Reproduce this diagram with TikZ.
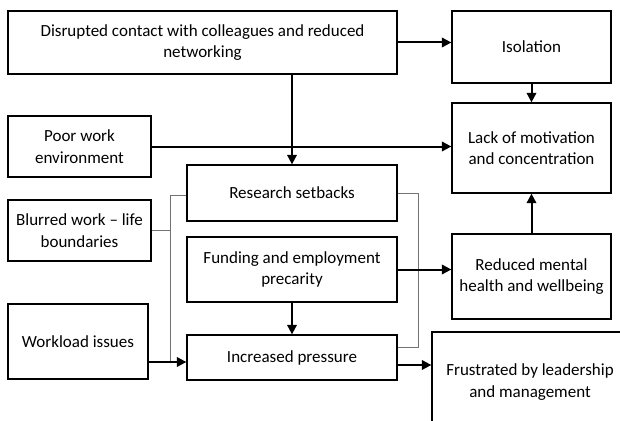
\documentclass[tikz,border=0pt]{standalone}
\usepackage{fontspec}
\setmainfont{Carlito}
\usetikzlibrary{arrows.meta,calc}
\begin{document}
\begin{tikzpicture}[x=1pt,y=-1pt,
  box/.style={draw=black,line width=1.3pt,align=center,inner sep=0pt,font=\fontsize{17}{21.5}\selectfont},
  txt/.style={align=center,inner sep=0pt,font=\fontsize{17}{21.5}\selectfont},
  arr/.style={line width=2pt,-{Triangle[length=9.5pt,width=9.5pt]}},
  gline/.style={draw=black!55,line width=0.9pt}]
\useasboundingbox (0,0) rectangle (620,420);
% boxes
\node[box,minimum width=389pt,minimum height=63pt] (A) at (202.5,42.5) {Disrupted contact with colleagues and reduced\\networking};
\node[box,minimum width=159pt,minimum height=72pt] (iso) at (531.5,47) {Isolation};
\node[box,minimum width=159pt,minimum height=90pt] (lack) at (531.5,148) {Lack of motivation\\and concentration};
\node[box,minimum width=143pt,minimum height=61pt] (poor) at (79.5,146.5) {Poor work\\environment};
\node[box,minimum width=210pt,minimum height=56pt] (rs) at (292,193) {Research setbacks};
\node[box,minimum width=143pt,minimum height=61pt] (blur) at (79.5,230.5) {Blurred work -- life\\boundaries};
\node[box,minimum width=210pt,minimum height=65pt] (fund) at (292,269.5) {Funding and employment\\precarity};
\node[box,minimum width=159pt,minimum height=85pt] (red) at (531.5,276.5) {Reduced mental\\health and wellbeing};
\node[box,minimum width=140pt,minimum height=75pt] (work) at (78,341.5) {Workload issues};
\node[box,minimum width=210pt,minimum height=45pt] (inc) at (292,357.5) {Increased pressure};
\node[box,minimum width=196pt,minimum height=130pt] (frus) at (530,397) {};
\node[txt] (frust) at (530,382) {Frustrated by leadership\\and management};
% helper coordinates
\coordinate (wiY) at (0,362);
\coordinate (ifY) at (0,365);
\coordinate (gl) at (170,195);
\coordinate (glb) at (170,362);
\coordinate (gr) at (418,193);
\coordinate (grb) at (418,347);
% thin gray connectors
\draw[gline] (rs.west |- gl) -- (gl) -- (glb);
\draw[gline] (blur.east) -- (blur.east -| gl);
\draw[gline] (rs.east |- gr) -- (gr) -- (grb) -- (inc.east |- grb);
% arrows
\draw[arr] (A.east) -- (A.east -| iso.west);
\draw[arr] (iso.south) -- (lack.north);
\draw[arr] (rs.north |- A.south) -- (rs.north);
\draw[arr] (poor.east) -- (poor.east -| lack.west);
\draw[arr] (red.north) -- (lack.south);
\draw[arr] (fund.east) -- (fund.east -| red.west);
\draw[arr] (fund.south) -- (inc.north);
\draw[arr] (work.east |- wiY) -- (inc.west |- wiY);
\draw[arr] (inc.east |- ifY) -- (frus.west |- ifY);
\end{tikzpicture}
\end{document}
